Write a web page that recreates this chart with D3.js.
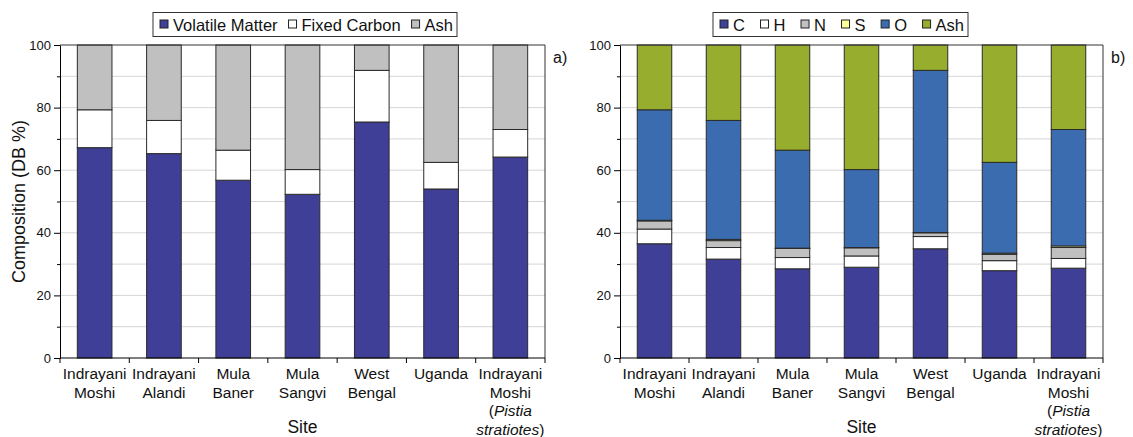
<!DOCTYPE html>
<html>
<head>
<meta charset="utf-8">
<script src="https://cdn.jsdelivr.net/npm/d3@7"></script>
<style>
body { margin: 0; background: #fff; }
svg { display: block; font-family: "Liberation Sans", Arial, sans-serif; }
</style>
</head>
<body>
<svg id="svg" width="1133" height="437"></svg>
<script>
// sites, "|" = new line, "*" toggles italics
var sites = ["Indrayani|Moshi", "Indrayani|Alandi", "Mula|Baner", "Mula|Sangvi",
    "West|Bengal", "Uganda", "Indrayani|Moshi|(*Pistia*|*stratiotes*)"];
var yTicks = [0, 20, 40, 60, 80, 100];
var yMinor = [10, 30, 50, 70, 90];

// a) proximate analysis
var proxNames = ["Volatile Matter", "Fixed Carbon", "Ash"];
var volatileMatter = [67.2, 65.3, 56.8, 52.3, 75.4, 54.0, 64.2];
var fixedCarbon = [12.1, 10.6, 9.6, 7.9, 16.5, 8.5, 8.8];
var ashA = [20.7, 24.1, 33.6, 39.8, 8.1, 37.5, 27.0];

// b) ultimate analysis
var ultNames = ["C", "H", "N", "S", "O", "Ash"];
var carbon = [36.5, 31.6, 28.5, 29.0, 34.9, 27.9, 28.7];
var hydrogen = [4.7, 3.7, 3.6, 3.6, 3.9, 3.2, 3.1];
var nitrogen = [2.6, 2.2, 2.9, 2.6, 1.2, 2.0, 3.5];
var sulphur = [0.2, 0.4, 0.1, 0.1, 0.1, 0.4, 0.5];
var oxygen = [35.3, 38.0, 31.3, 24.9, 51.8, 29.0, 37.2];
var ashB = [20.7, 24.1, 33.6, 39.8, 8.1, 37.5, 27.0];

var proxColors = ["#3f3f97", "#ffffff", "#c0c0c0"];
var ultColors = ["#3f3f97", "#ffffff", "#c0c0c0", "#ffff99", "#3a6caf", "#96ad2d"];

var svg = d3.select("#svg");
var y = d3.scaleLinear().domain([0, 100]).range([358, 45]);

function drawPanel(left, right, names, values, colors, tag, legLeft, legRight) {
    var g = svg.append("g");
    var x = d3.scaleBand().domain(d3.range(sites.length)).range([left, right])
        .paddingInner(0.5).paddingOuter(0.25);

    // grid
    g.selectAll(".grid").data(yMinor.concat([20, 40, 60, 80]))
        .enter().append("line")
        .attr("x1", left).attr("x2", right)
        .attr("y1", d => y(d)).attr("y2", d => y(d))
        .attr("stroke", "#d6d6d6").attr("stroke-width", 1);

    var rows = d3.range(sites.length).map(i => {
        var r = { i: i };
        names.forEach((n, k) => r[n] = values[k][i]);
        return r;
    });
    var layers = d3.stack().keys(names)(rows);

    g.selectAll(".layer").data(layers).enter().append("g")
        .attr("fill", (d, k) => colors[k])
        .selectAll("rect").data(d => d).enter().append("rect")
        .attr("x", d => x(d.data.i))
        .attr("y", d => y(d[1]))
        .attr("width", x.bandwidth())
        .attr("height", d => y(d[0]) - y(d[1]))
        .attr("stroke", "#2a2a2a").attr("stroke-width", 1);

    // frame
    g.append("path")
        .attr("d", "M" + left + "," + y(100) + "H" + right + "V" + y(0))
        .attr("fill", "none").attr("stroke", "#333");

    // y axis
    g.append("g").attr("transform", "translate(" + left + ",0)")
        .call(d3.axisLeft(y).tickValues(yMinor).tickSize(3).tickFormat(""))
        .call(a => a.select(".domain").remove());
    g.append("g").attr("transform", "translate(" + left + ",0)")
        .call(d3.axisLeft(y).tickValues(yTicks).tickSize(6).tickSizeOuter(0).tickPadding(3))
        .call(a => a.selectAll("text").attr("font-size", 13).attr("fill", "#111")
            .attr("font-family", "Liberation Sans, Arial, sans-serif"));

    // x axis line + boundary ticks
    g.append("line").attr("x1", left).attr("x2", right)
        .attr("y1", y(0)).attr("y2", y(0)).attr("stroke", "#000");
    g.selectAll(".xt").data(d3.range(sites.length + 1)).enter().append("line")
        .attr("x1", d => left + d * x.step()).attr("x2", d => left + d * x.step())
        .attr("y1", y(0)).attr("y2", y(0) + 5).attr("stroke", "#000");

    // category labels
    sites.forEach((s, i) => {
        var t = g.append("text").attr("text-anchor", "middle").attr("font-size", 15.5)
            .attr("fill", "#111");
        s.split("|").forEach((line, li) => {
            var parts = line.split("*");
            parts.forEach((p, pi) => {
                if (!p) return;
                var ts = t.append("tspan").text(p)
                    .attr("font-style", pi % 2 ? "italic" : "normal");
                if (pi === 0 || (pi === 1 && !parts[0])) {
                    ts.attr("x", x(i) + x.bandwidth() / 2).attr("y", 379 + li * 18.5);
                }
            });
        });
    });

    g.append("text").attr("x", (left + right) / 2).attr("y", 433)
        .attr("text-anchor", "middle").attr("font-size", 17.5).attr("fill", "#111").text("Site");

    g.append("text").attr("x", right + 8).attr("y", 63)
        .attr("font-size", 16).attr("fill", "#111").text(tag);

    // legend: items spread to fill the box
    var lg = g.append("g");
    var box = lg.append("rect").attr("x", legLeft).attr("y", 12.5)
        .attr("width", legRight - legLeft).attr("height", 24)
        .attr("fill", "#fff").attr("stroke", "#333");
    var texts = names.map(n => lg.append("text").attr("y", 30.5)
        .attr("font-size", 16.5).attr("fill", "#111").text(n));
    var widths = texts.map(t => t.node().getComputedTextLength());
    var content = d3.sum(widths) + names.length * 13;
    var gap = (legRight - legLeft - 11 - content) / (names.length - 1);
    var cx = legLeft + 7;
    names.forEach((n, k) => {
        lg.append("rect").attr("x", cx).attr("y", 20).attr("width", 8).attr("height", 8)
            .attr("fill", colors[k]).attr("stroke", "#222");
        texts[k].attr("x", cx + 13);
        cx += 13 + widths[k] + gap;
    });
}

drawPanel(60, 545, proxNames, [volatileMatter, fixedCarbon, ashA], proxColors, "a)", 153, 457);
drawPanel(620, 1103, ultNames, [carbon, hydrogen, nitrogen, sulphur, oxygen, ashB], ultColors, "b)", 713, 968);

svg.append("text")
    .attr("transform", "translate(25," + y(50) + ") rotate(-90)")
    .attr("text-anchor", "middle").attr("font-size", 18).attr("fill", "#111")
    .text("Composition (DB %)");
</script>
</body>
</html>
